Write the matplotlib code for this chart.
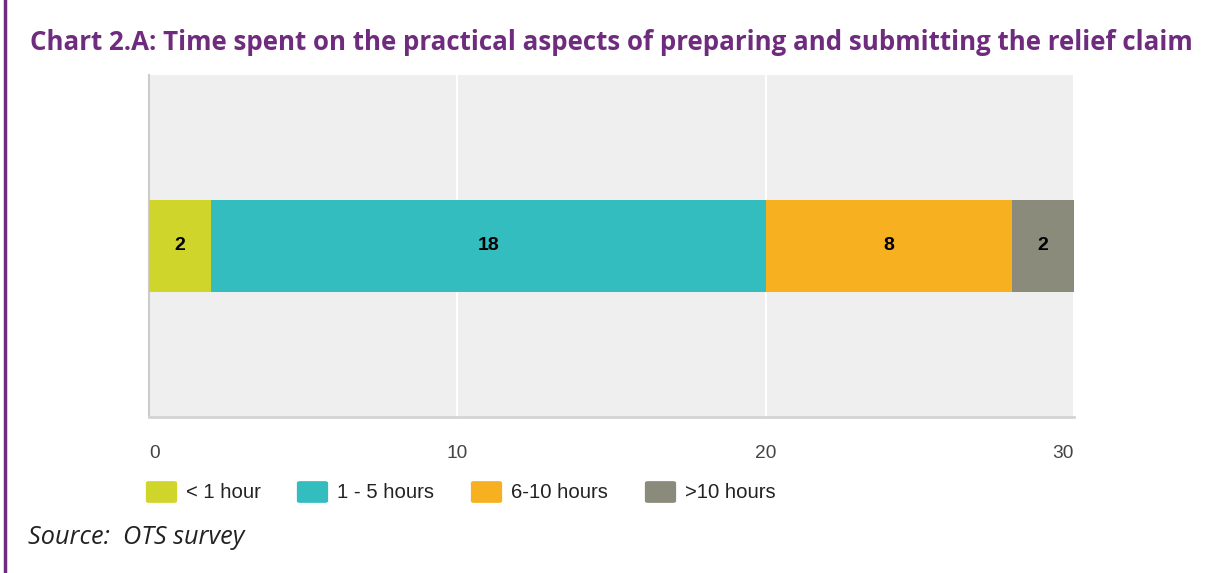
import matplotlib
matplotlib.use("Agg")
import matplotlib.pyplot as plt
from matplotlib.patches import FancyBboxPatch
from matplotlib.lines import Line2D

# data
categories = ["< 1 hour", "1 - 5 hours", "6-10 hours", ">10 hours"]
values = [2, 18, 8, 2]
colors = ["#cfd52a", "#33bdbf", "#f7b01f", "#8a8b7b"]
xticks = [0, 10, 20, 30]

title = "Chart 2.A: Time spent on the practical aspects of preparing and submitting the relief claim"
source = "Source:  OTS survey"

purple = "#6f2b7d"

fig = plt.figure(figsize=(12.14, 5.73), dpi=100)
ax = fig.add_axes([149 / 1214, 1 - 417 / 573, 925 / 1214, 342 / 573])
ax.set_facecolor("#efefef")

left = 0
for v, c in zip(values, colors):
    ax.barh(0, v, left=left, height=0.27, color=c, zorder=3)
    ax.text(left + v / 2, 0, str(v), ha="center", va="center",
            fontsize=14, fontweight="bold", color="black",
            family="Liberation Sans", zorder=4)
    left += v

ax.set_xlim(0, 30)
ax.set_ylim(-0.5, 0.5)
ax.set_yticks([])
ax.set_xticks(xticks)
ax.set_xticklabels([str(t) for t in xticks], family="Liberation Sans",
                   fontsize=13.8, color="#444444")
labels = ax.get_xticklabels()
labels[0].set_ha("left")
labels[-1].set_ha("right")
ax.tick_params(axis="x", length=0, pad=20)
ax.grid(axis="x", color="white", linewidth=1.5, zorder=1)
for s in ["top", "right"]:
    ax.spines[s].set_visible(False)
ax.spines["left"].set_color("#cccccc")
ax.spines["left"].set_linewidth(1.5)
ax.spines["bottom"].set_color("#d4d4d4")
ax.spines["bottom"].set_linewidth(2)

# title
fig.text(30 / 1214, 1 - 42 / 573, title, fontsize=18.6, fontweight="bold",
         color=purple, family="Open Sans", va="center", ha="left")

# legend drawn by hand
leg_x = [147, 298, 472, 646]
leg_y = 492
for x, lab, c in zip(leg_x, categories, colors):
    p = FancyBboxPatch(((x + 2) / 1214, 1 - (leg_y + 9) / 573), 25 / 1214, 18 / 573,
                       boxstyle="round,pad=0.002", transform=fig.transFigure,
                       facecolor=c, edgecolor=c, linewidth=1)
    fig.patches.append(p)
    fig.text((x + 39) / 1214, 1 - leg_y / 573, lab, fontsize=14.6,
             family="Liberation Sans", color="#222222", va="center", ha="left")

# source
fig.text(28 / 1214, 1 - 538 / 573, source, fontsize=18.2, style="italic",
         family="Open Sans", color="#222222", va="center", ha="left")

# purple bar at left edge
fig.add_artist(Line2D([5 / 1214, 5 / 1214], [0, 1], transform=fig.transFigure,
                      color=purple, linewidth=2.5))

fig.savefig("out.png", dpi=100)
